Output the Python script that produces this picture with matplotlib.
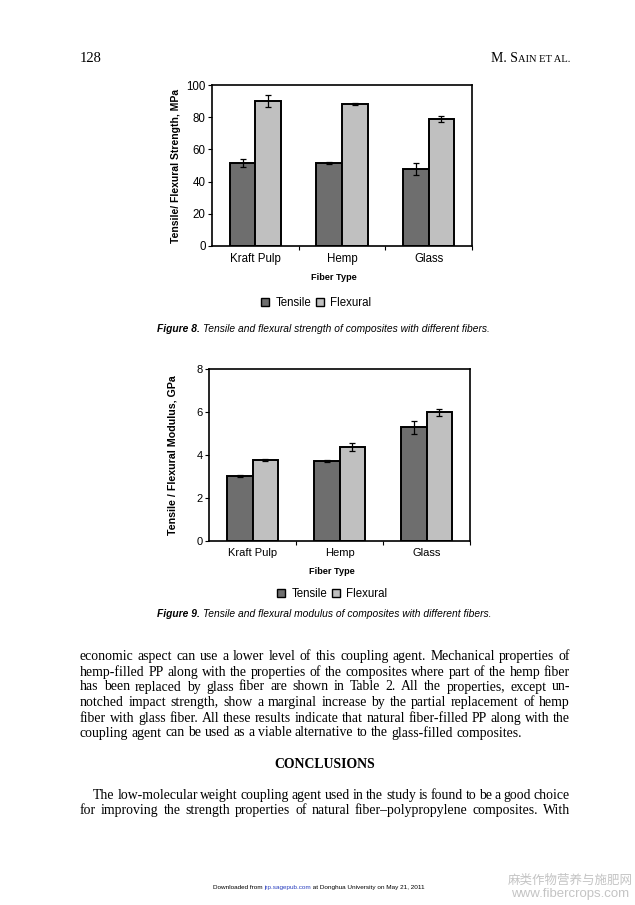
import matplotlib
matplotlib.use('Agg')
import matplotlib.pyplot as plt
from matplotlib.lines import Line2D
import numpy as np

W, H = 635, 905
fig = plt.figure(figsize=(W / 100, H / 100), dpi=100)
fig.patch.set_facecolor('white')

# ---------------- data ----------------
categories = ['Kraft Pulp', 'Hemp', 'Glass']
series_names = ['Tensile', 'Flexural']

strength_tensile = [51.7, 51.7, 47.9]
strength_tensile_err = [2.5, 0.5, 3.6]
strength_flexural = [90.0, 88.2, 78.8]
strength_flexural_err = [3.9, 0.5, 1.9]

modulus_tensile = [3.01, 3.71, 5.30]
modulus_tensile_err = [0.05, 0.05, 0.30]
modulus_flexural = [3.76, 4.38, 5.98]
modulus_flexural_err = [0.05, 0.20, 0.15]

C_T = '#6e6e6e'
C_F = '#c0c0c0'
SANS = 'Liberation Sans'
SERIF = 'Liberation Serif'


def px_axes(l, t, r, b):
    return fig.add_axes([l / W, 1 - b / H, (r - l) / W, (b - t) / H])


def T(x, y, s, **kw):
    kw.setdefault('va', 'center')
    return fig.text(x / W, 1 - y / H, s, **kw)


def draw_chart(ax, t, te, f, fe, ymax, ystep, ylabel, ylab_size, tick_size,
               xlab_y, leg_y, leg_x):
    x = np.arange(len(categories))
    w = 0.296
    ekw = dict(ecolor='black', elinewidth=0.9, capsize=2.5, capthick=0.9)
    ax.bar(x - w / 2, t, w, yerr=te, color=C_T, edgecolor='black',
           linewidth=1.4, error_kw=ekw, zorder=2)
    ax.bar(x + w / 2, f, w, yerr=fe, color=C_F, edgecolor='black',
           linewidth=1.4, error_kw=ekw, zorder=2)
    ax.set_xlim(-0.5, len(categories) - 0.5)
    ax.set_ylim(0, ymax)
    ax.set_yticks(np.arange(0, ymax + ystep / 2, ystep))
    ax.set_xticks([0.5, 1.5, 2.5])
    ax.set_xticklabels([])
    ax.set_xticks(x, minor=True)
    ax.set_xticklabels(categories, minor=True)
    ax.tick_params(axis='x', which='minor', length=0, pad=5,
                   labelsize=tick_size)
    ax.tick_params(axis='x', which='major', length=3, width=0.8)
    ax.tick_params(axis='y', length=3, width=0.8, pad=1.5,
                   labelsize=tick_size)
    for lab in ax.get_xticklabels(minor=True) + ax.get_yticklabels():
        lab.set_family(SANS)
    for s in ax.spines.values():
        s.set_linewidth(1.2)
    ax.set_ylabel(ylabel, family=SANS, fontsize=ylab_size, fontweight='semibold')
    ax.yaxis.set_label_coords(-0.119, 0.5)
    bb = ax.get_position()
    cx = (bb.x0 + bb.x1) / 2 * W
    T(cx - 8, xlab_y, 'Fiber Type', ha='center', family=SANS,
      fontsize=6.6, fontweight='bold')
    handles = [Line2D([], [], marker='s', ls='none', markersize=5.5,
                      markerfacecolor=C_T, markeredgecolor='black',
                      markeredgewidth=1.0),
               Line2D([], [], marker='s', ls='none', markersize=5.5,
                      markerfacecolor=C_F, markeredgecolor='black',
                      markeredgewidth=1.0)]
    fig.legend(handles, series_names, loc='center',
               bbox_to_anchor=(leg_x / W, 1 - leg_y / H), ncol=2,
               frameon=False, handlelength=0.8, handletextpad=0.5,
               columnspacing=0.3, prop=dict(family=SANS, size=8.3))


ax1 = px_axes(212, 85, 472, 246)
draw_chart(ax1, strength_tensile, strength_tensile_err, strength_flexural,
           strength_flexural_err, 100, 20, 'Tensile/ Flexural Strength, MPa',
           7.5, 8.3, 277, 303, 316)

ax2 = px_axes(209, 369, 470, 541)
draw_chart(ax2, modulus_tensile, modulus_tensile_err, modulus_flexural,
           modulus_flexural_err, 8, 2, 'Tensile / Flexural Modulus, GPa',
           7.7, 8.0, 572, 594, 332)

fig.canvas.draw()
R = fig.canvas.get_renderer()


def wid(t):
    return t.get_window_extent(R).width


# ---------------- header ----------------
T(80, 62, '128', family=SERIF, fontsize=10.5, ha='left', va='baseline')
t2 = T(570, 62, 'AIN ET AL.', family=SERIF, fontsize=7.6, ha='right',
       va='baseline')
T(570 - wid(t2), 62, 'M. S', family=SERIF, fontsize=10.0, ha='right',
  va='baseline')

# ---------------- captions ----------------
def caption(y, num, rest):
    a = T(157, y, num, family=SANS, fontsize=7.35, fontweight='bold',
          style='italic', ha='left', va='baseline')
    T(157 + wid(a) + 3, y, rest, family=SANS, fontsize=7.35, style='italic',
      ha='left', va='baseline')


caption(332, 'Figure 8.', 'Tensile and flexural strength of composites with different fibers.')
caption(617, 'Figure 9.', 'Tensile and flexural modulus of composites with different fibers.')

# ---------------- body text ----------------
body_lines = [
    'economic aspect can use a lower level of this coupling agent. Mechanical properties of',
    'hemp-filled PP along with the properties of the composites where part of the hemp fiber',
    'has been replaced by glass fiber are shown in Table 2. All the properties, except un-',
    'notched impact strength, show a marginal increase by the partial replacement of hemp',
    'fiber with glass fiber. All these results indicate that natural fiber-filled PP along with the',
    'coupling agent can be used as a viable alternative to the glass-filled composites.',
]
body_y = [656, 672, 687, 702, 718, 733]
concl_lines = [
    'The low-molecular weight coupling agent used in the study is found to be a good choice',
    'for improving the strength properties of natural fiber\u2013polypropylene composites. With',
]
concl_y = [795, 810]

probe = T(0, -50, body_lines[-1], family=SERIF, fontsize=10)
BS = 10 * 440 / wid(probe)
probe.remove()
BASE = 3.5  # baseline offset below the x-height centre


def line(s, y, x0, x1, justify=True):
    words = s.split(' ')
    ts = [T(x0, y + BASE, w_, family=SERIF, fontsize=BS, ha='left',
            va='baseline') for w_ in words]
    ws = [wid(t) for t in ts]
    if justify and len(words) > 1:
        gap = (x1 - x0 - sum(ws)) / (len(words) - 1)
    else:
        gap = 0.25 * BS * 100 / 72
    x = x0
    for t, w_ in zip(ts, ws):
        t.set_x(x / W)
        x += w_ + gap


for i, (s, y) in enumerate(zip(body_lines, body_y)):
    line(s, y, 80, 570, justify=(i < len(body_lines) - 1))

T(325, 764 + BASE, 'CONCLUSIONS', family=SERIF, fontsize=BS,
  fontweight='bold', ha='center', va='baseline')
line(concl_lines[0], concl_y[0], 93, 570)
line(concl_lines[1], concl_y[1], 80, 570)

# ---------------- footer ----------------
fs = 4.6
a = T(213, 889, 'Downloaded from ', family=SANS, fontsize=fs, ha='left',
      va='baseline')
x = 213 + wid(a)
b = T(x, 889, 'jrp.sagepub.com', family=SANS, fontsize=fs, ha='left',
      color='#2a3fbf', va='baseline')
x += wid(b)
T(x, 889, ' at Donghua University on May 21, 2011', family=SANS, fontsize=fs,
  ha='left', va='baseline')

T(570, 880, '麻类作物营养与施肥网', family=['Noto Sans CJK SC', 'DejaVu Sans'],
  fontsize=9, ha='center', color='#c4c4c4')
T(570, 894, 'www.fibercrops.com', family=SANS, fontsize=9.5, ha='center',
  color='#c4c4c4')

fig.savefig('out.png', dpi=100, facecolor='white')
